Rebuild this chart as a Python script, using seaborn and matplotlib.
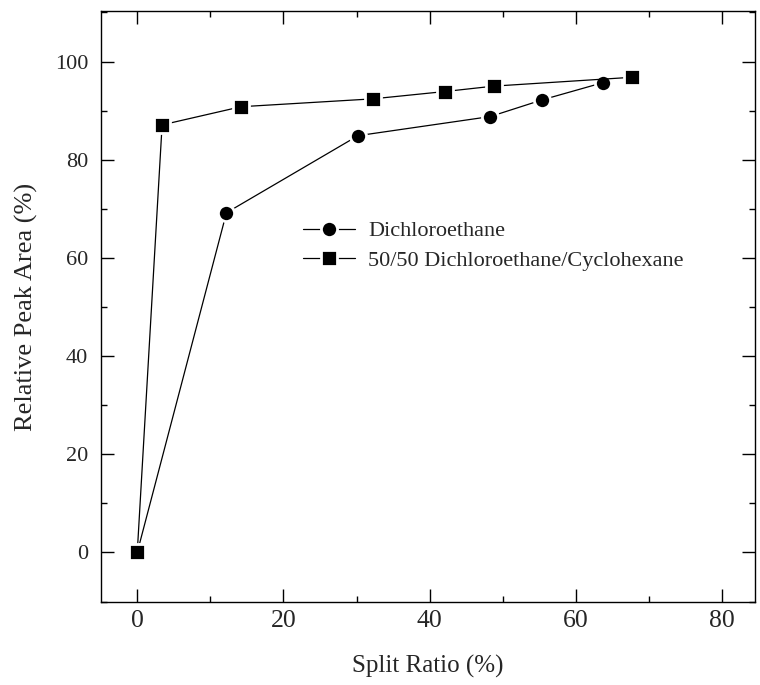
import matplotlib
matplotlib.use("Agg")
import matplotlib.pyplot as plt
import seaborn as sns
import pandas as pd
from matplotlib.ticker import MultipleLocator

# Data
dce_x = [0, 12.2, 30.2, 48.3, 55.4, 63.7]
dce_y = [0, 69.2, 84.9, 88.8, 92.2, 95.7]
mix_x = [0, 3.4, 14.2, 32.2, 42.1, 48.8, 67.7]
mix_y = [0, 87.1, 90.8, 92.4, 93.9, 95.0, 96.8]
series_names = ["Dichloroethane", "50/50 Dichloroethane/Cyclohexane"]
x_ticks = [0, 20, 40, 60, 80]
y_ticks = [0, 20, 40, 60, 80, 100]

sns.set_style("ticks")
plt.rcParams['font.family'] = ['Liberation Serif', 'DejaVu Serif']

fig = plt.figure(figsize=(7.6, 6.85), dpi=100)
ax = fig.add_axes([100.7/760, 1 - 602/685, (755 - 100.7)/760, (602 - 11)/685])

df1 = pd.DataFrame({"x": dce_x, "y": dce_y})
df2 = pd.DataFrame({"x": mix_x, "y": mix_y})

common = dict(color="black", linewidth=0.9, markeredgecolor="white",
              markeredgewidth=2.0, estimator=None, sort=False, ax=ax)
sns.lineplot(data=df1, x="x", y="y", marker="o", markersize=11.6,
             label=series_names[0], zorder=3, **common)
sns.lineplot(data=df2, x="x", y="y", marker="s", markersize=11.2,
             label=series_names[1], zorder=4, **common)

ax.set_xlim(-5, 84.5)
ax.set_ylim(-10.1, 110.3)
ax.set_xticks(x_ticks)
ax.set_yticks(y_ticks)
ax.xaxis.set_minor_locator(MultipleLocator(10))
ax.yaxis.set_minor_locator(MultipleLocator(10))
ax.tick_params(which="both", direction="in", top=True, right=True,
               width=1.0, color="black")
ax.tick_params(which="major", length=9.5)
ax.tick_params(which="minor", length=4.5)
ax.tick_params(axis="y", which="major", labelsize=16, pad=9)
ax.tick_params(axis="x", which="major", labelsize=18.5, pad=6)
for s in ax.spines.values():
    s.set_linewidth(1.0)
    s.set_color("black")

ax.set_xlabel("Split Ratio (%)", fontsize=18, labelpad=16)
ax.set_ylabel("Relative Peak Area (%)", fontsize=19, labelpad=12)

leg = ax.legend(loc="upper left", bbox_to_anchor=(0.309, 0.645), frameon=False,
                fontsize=16, handlelength=2.34, handletextpad=0.59,
                borderpad=0, borderaxespad=0, labelspacing=0.4)

fig.savefig("out.png", dpi=100)
